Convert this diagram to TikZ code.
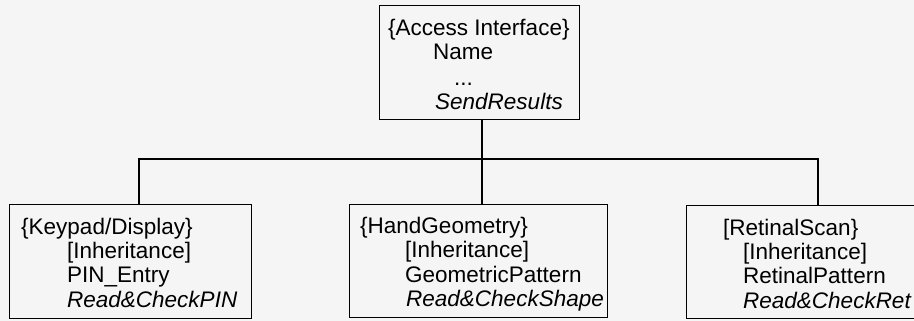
\documentclass[tikz,border=0pt]{standalone}
\usepackage{fontspec}
\setmainfont{Liberation Sans}
\definecolor{paper}{RGB}{245,245,245}
\begin{document}
\begin{tikzpicture}[x=1pt,y=-1pt,
  classbox/.style={draw=black,line width=1.3pt,rectangle,inner sep=0pt,anchor=north west},
  txt/.style={anchor=base west,inner sep=0pt,font=\fontsize{22.5}{24.5}\selectfont},
  itxt/.style={txt,font=\fontsize{22.5}{24.5}\selectfont\itshape},
  link/.style={line width=1.3pt,black}]
  % page with its background
  \fill[paper] (0,0) rectangle (914,321);
  \useasboundingbox (0,0) rectangle (914,321);
  \begin{scope}
  \clip (0,0) rectangle (914,321);

  % class boxes
  \node[classbox,minimum width=200pt,minimum height=114pt] (ai) at (379,5) {};
  \node[classbox,minimum width=242pt,minimum height=114pt] (kp) at (9,204) {};
  \node[classbox,minimum width=258pt,minimum height=113pt] (hg) at (349,204) {};
  \node[classbox,minimum width=250pt,minimum height=113pt] (rs) at (686,205) {};

  % top class
  \node[txt]  (ai1) at (388,36)  {\{Access Interface\}};
  \node[txt]  (ai2) at (433,60)  {Name};
  \node[txt]  (ai3) at (454,85)  {...};
  \node[itxt] (ai4) at (435,110) {SendResults};

  % keypad class
  \node[txt]  (kp1) at (21,234) {\{Keypad/Display\}};
  \node[txt]  (kp2) at (67,258) {[Inheritance]};
  \node[txt]  (kp3) at (67,282) {PIN\_Entry};
  \node[itxt] (kp4) at (67,307) {Read\&CheckPIN};

  % hand geometry class
  \node[txt]  (hg1) at (360,233) {\{HandGeometry\}};
  \node[txt]  (hg2) at (405,257) {[Inheritance]};
  \node[txt]  (hg3) at (405,282) {GeometricPattern};
  \node[itxt] (hg4) at (406,306) {Read\&CheckShape};

  % retinal scan class
  \node[txt]  (rs1) at (723,235) {[RetinalScan\}};
  \node[txt]  (rs2) at (743,259) {[Inheritance]};
  \node[txt]  (rs3) at (743,283) {RetinalPattern};
  \node[itxt] (rs4) at (743,308) {Read\&CheckRet};

  % inheritance tree
  \coordinate (jm) at (482,159);
  \coordinate (jl) at (139,159);
  \coordinate (jr) at (818,159);
  \draw[link] (ai.south -| jm) -- (jm);
  \draw[link] (kp.north -| jl) -- (jl) -- (jr) -- (rs.north -| jr);
  \draw[link] (jm) -- (hg.north -| jm);
  \end{scope}
\end{tikzpicture}
\end{document}
